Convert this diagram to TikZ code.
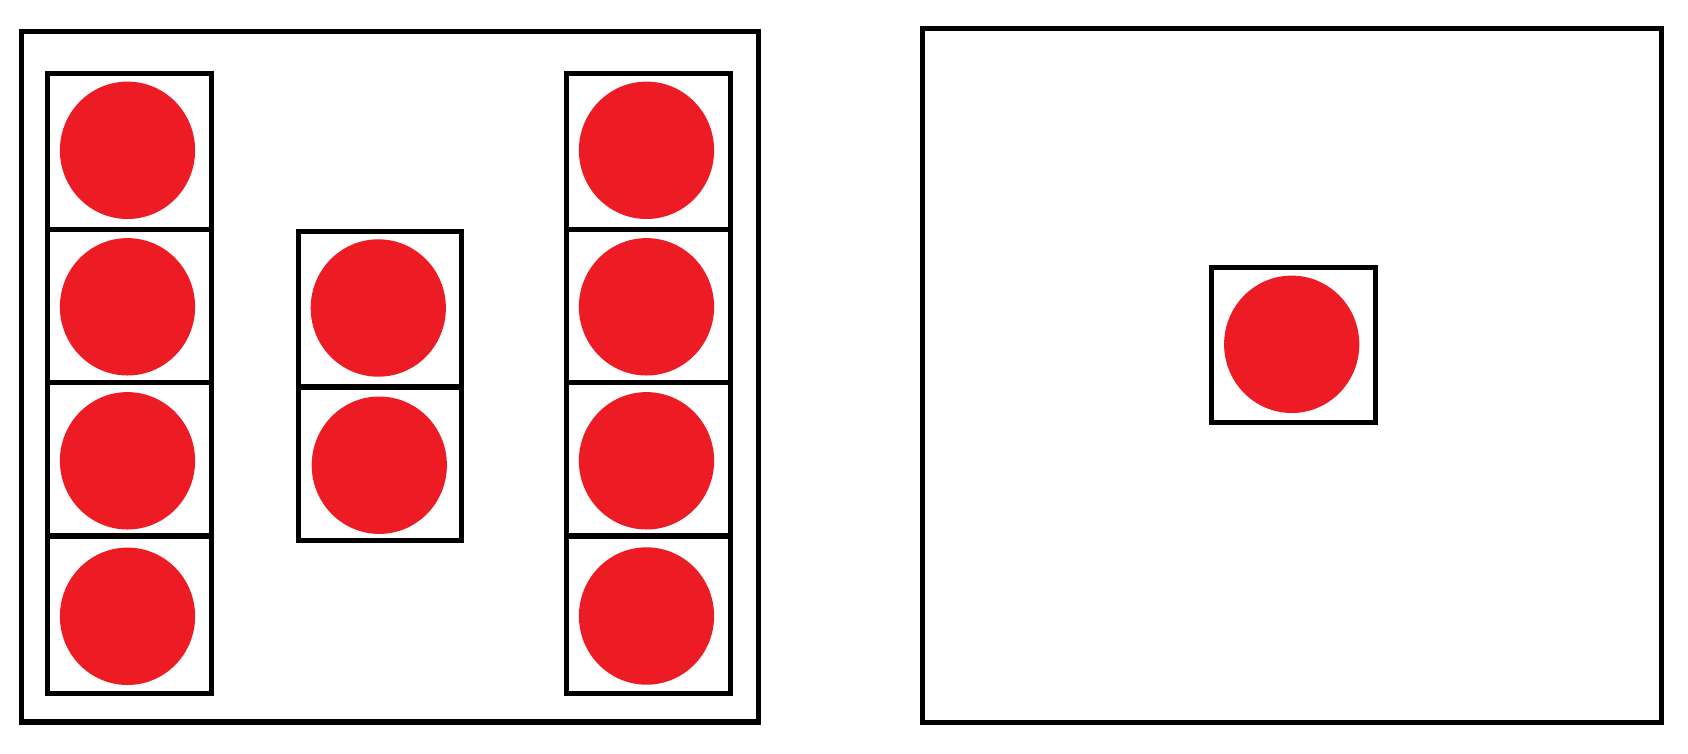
\documentclass[tikz,border=0pt]{standalone}
\definecolor{dotred}{HTML}{ED1C24}
\begin{document}
\begin{tikzpicture}[x=1pt,y=-1pt,
  frame/.style={draw=black,line width=5.5pt,line join=miter},
  cellbox/.style={draw=black,line width=5.2pt,line join=miter},
  dot/.style={fill=dotred}]
\useasboundingbox (0,0) rectangle (1688,753);
% outer frames
\draw[frame] (21.5,31.5) rectangle (758.5,722);
\draw[frame] (922.5,28.5) rectangle (1661.5,722.5);
% left column
\draw[cellbox] (47.5,73.5) rectangle (211.5,693.3);
\foreach \yy in {229.5,382.5,536} \draw[cellbox] (47.5,\yy) -- (211.5,\yy);
% middle column
\draw[cellbox] (298.5,231.8) rectangle (461.8,540.2);
\draw[cellbox] (298.5,387) -- (461.8,387);
% right column
\draw[cellbox] (566.5,73.5) rectangle (730.2,693.3);
\foreach \yy in {229.5,382.5,536} \draw[cellbox] (566.5,\yy) -- (730.2,\yy);
% right single box
\draw[cellbox] (1211.8,267.8) rectangle (1375.2,422.8);
% dots
\foreach \cx/\cy in {127.5/150.3,127.5/306.8,127.5/460.8,127.5/616.3,
  378.3/308,379.3/465.2,
  646.5/150.3,646.5/306.8,646.5/460.8,646.5/616,
  1291.7/344.3}
  \fill[dot] (\cx,\cy) ellipse [x radius=67.6, y radius=68.7];
\end{tikzpicture}
\end{document}
